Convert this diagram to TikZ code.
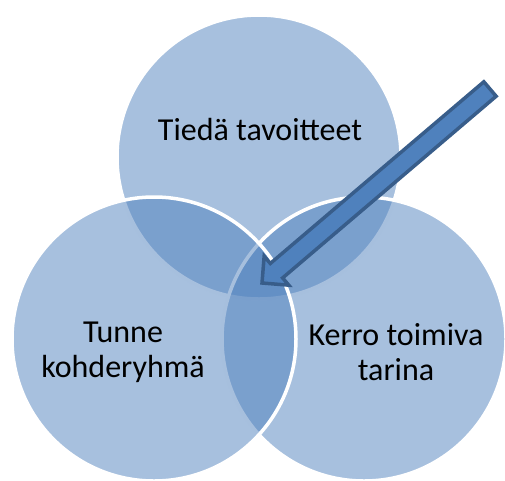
\documentclass[tikz,border=0pt]{standalone}
\usepackage{fontspec}
\setmainfont{Carlito}
\usetikzlibrary{calc}

\definecolor{accent}{HTML}{4F81BD}
\definecolor{accentdark}{HTML}{385D8A}

\tikzset{
    ring/.style={fill=accent, fill opacity=0.5, draw=white, line width=3.5pt},
    venntext/.style={font=\fontsize{32}{35}\selectfont, align=center, text=black},
    blockarrow/.style={fill=accent, draw=accentdark, line width=3.5pt, line join=miter}
}

\begin{document}
\begin{tikzpicture}[x=1pt,y=-1pt]
    % Fix the canvas to the size of the original
    \useasboundingbox (0,0) rectangle (505,480);

    % Draw the three circles: top, right, then left last
    \draw[ring] (259,157) circle(142);
    \draw[ring] (364,339) circle(142);
    \draw[ring] (154,339) circle(142);

    % Label the circles
    \node[venntext, anchor=base] (goals) at (260,140) {Tiedä tavoitteet};
    \node[venntext] (audience) at (123,352) {Tunne\\kohderyhmä};
    \node[venntext] (story) at (396,352) {Kerro toimiva\\tarina};

    % Block arrow pointing into the common area
    \coordinate (tip) at (262,283);
    \coordinate (tail) at (490,89);
    \coordinate (neck) at ($(tip)!19pt!(tail)$);
    \draw[blockarrow] (tip)
        -- ($(neck)!19pt!90:(tail)$) -- ($(neck)!9.5pt!90:(tail)$)
        -- ($(tail)!9.5pt!-90:(neck)$) -- ($(tail)!9.5pt!90:(neck)$)
        -- ($(neck)!9.5pt!-90:(tail)$) -- ($(neck)!19pt!-90:(tail)$)
        -- cycle;
\end{tikzpicture}
\end{document}
